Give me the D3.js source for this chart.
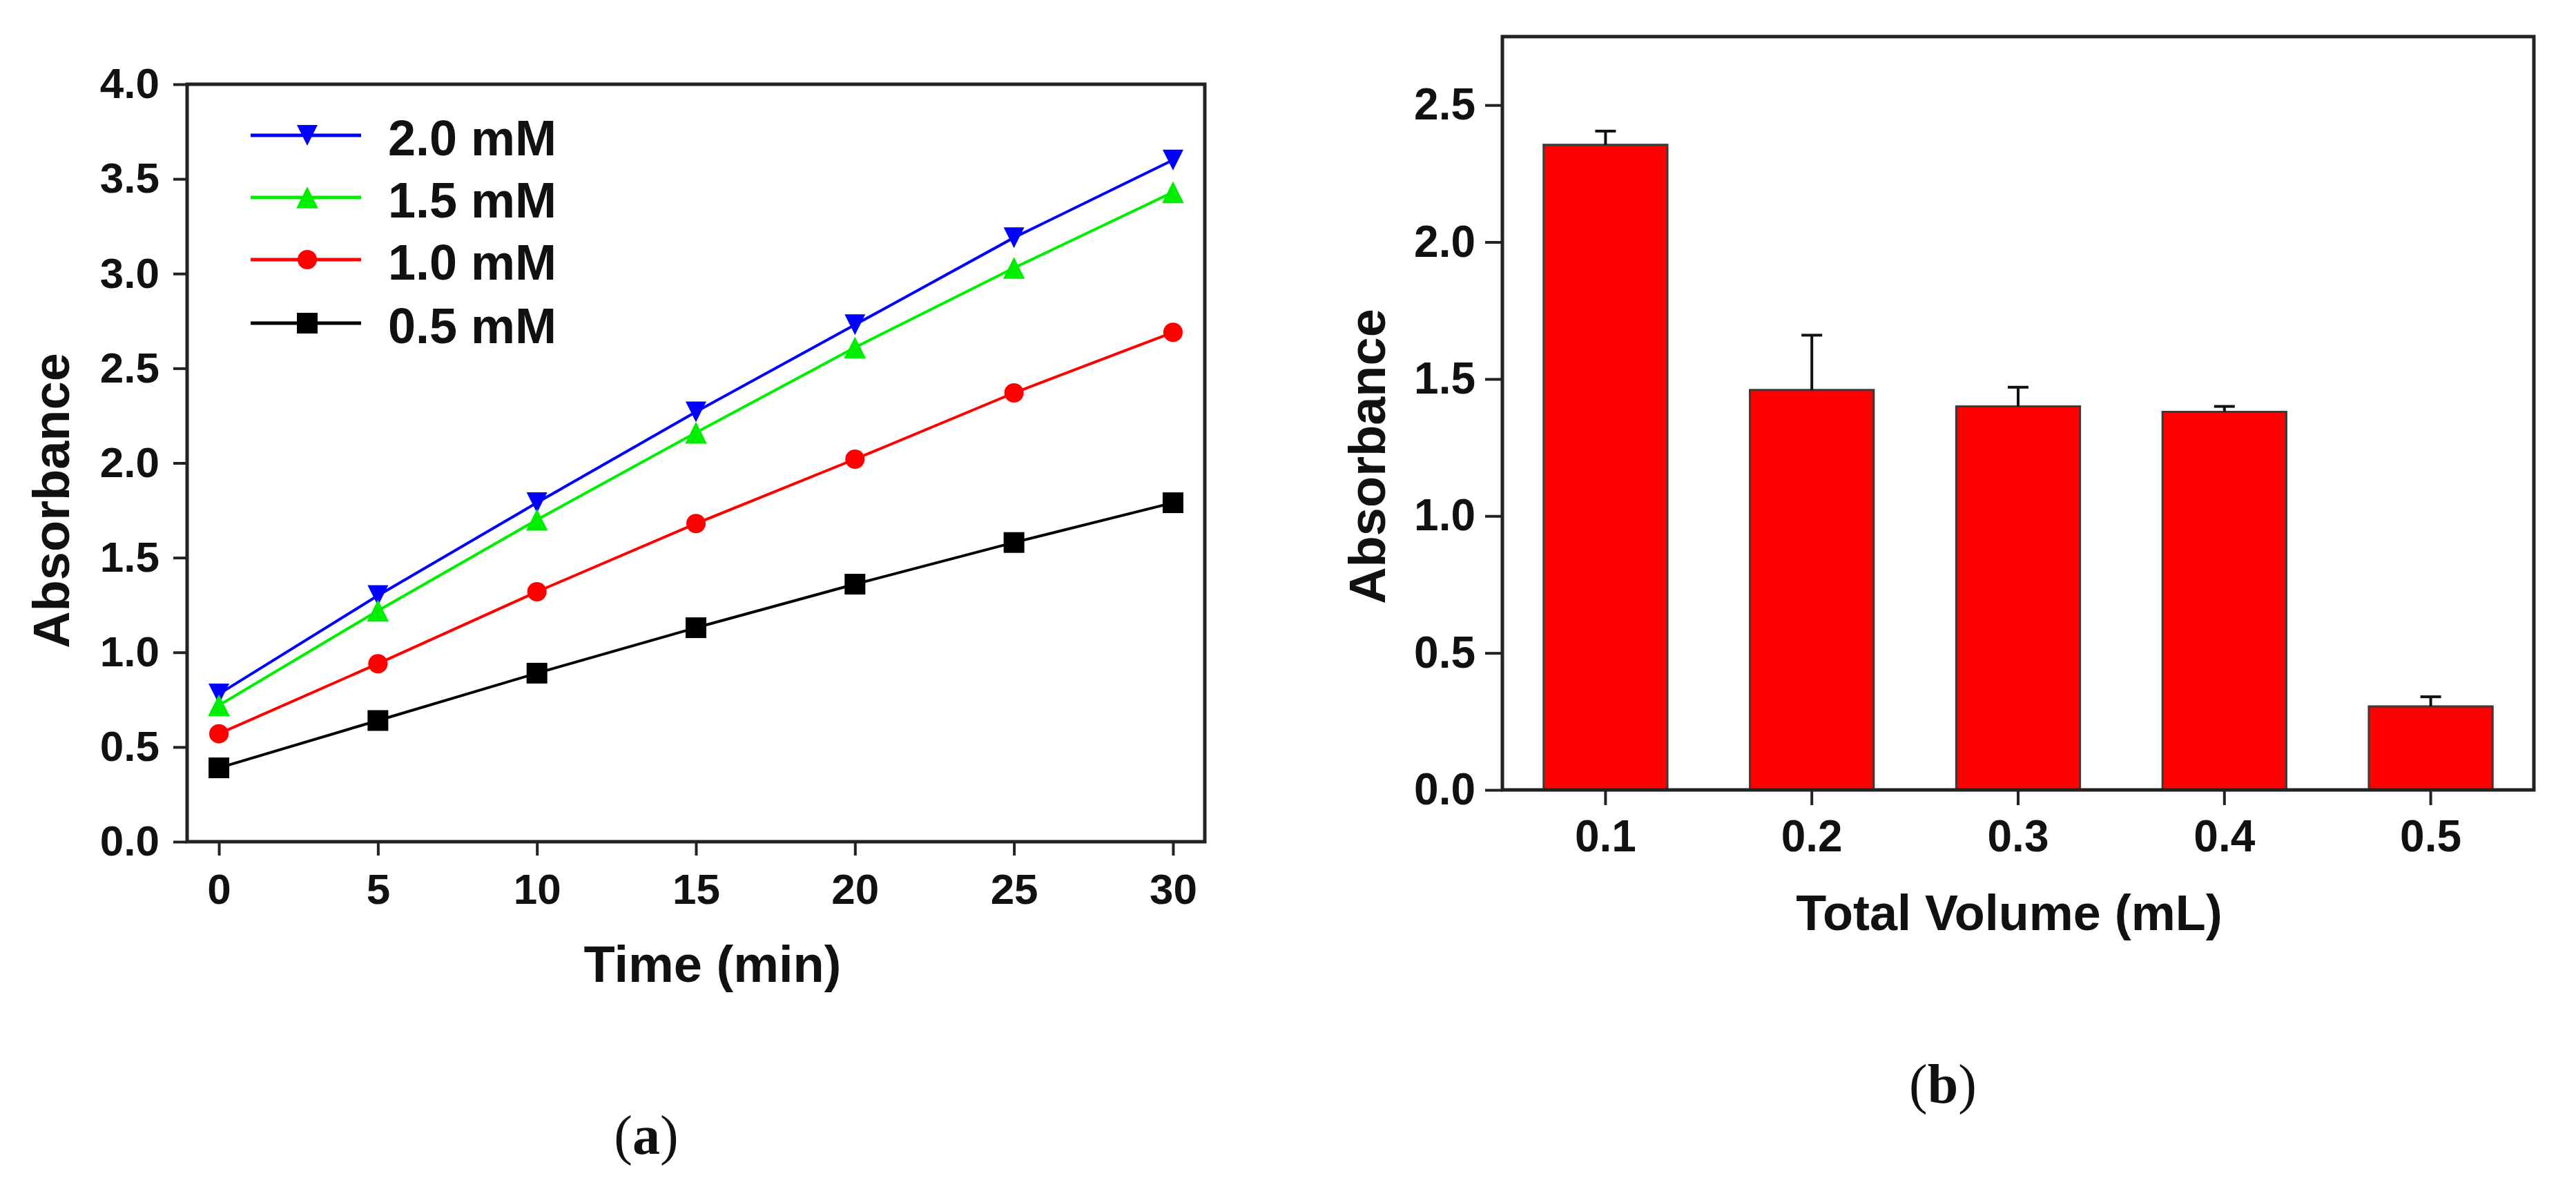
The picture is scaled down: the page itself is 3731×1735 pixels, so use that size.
<!DOCTYPE html>
<html>
<head>
<meta charset="utf-8">
<script src="https://cdn.jsdelivr.net/npm/d3@7"></script>
<style>
  body { margin: 0; background: #fff; }
  svg text { font-family: "Liberation Sans", Arial, sans-serif; font-weight: bold; fill: #111; }
  svg text.cap { font-family: "Liberation Serif", "Times New Roman", serif; font-weight: normal; }
</style>
</head>
<body>
<svg id="fig"></svg>
<script>
// panel (a): absorbance vs time for four concentrations
var times = [0, 5, 10, 15, 20, 25, 30];
var abs20 = [0.78, 1.30, 1.79, 2.27, 2.73, 3.19, 3.60];
var abs15 = [0.72, 1.22, 1.70, 2.16, 2.61, 3.03, 3.43];
var abs10 = [0.57, 0.94, 1.32, 1.68, 2.02, 2.37, 2.69];
var abs05 = [0.39, 0.64, 0.89, 1.13, 1.36, 1.58, 1.79];
var seriesNames = ["2.0 mM", "1.5 mM", "1.0 mM", "0.5 mM"];
var timeTicks = [0, 5, 10, 15, 20, 25, 30];
var absTicksA = [0, 0.5, 1.0, 1.5, 2.0, 2.5, 3.0, 3.5, 4.0];

// panel (b): absorbance vs total volume
var volumes = ["0.1", "0.2", "0.3", "0.4", "0.5"];
var volAbs = [2.355, 1.46, 1.40, 1.38, 0.305];
var volErr = [0.05, 0.20, 0.07, 0.02, 0.035];
var absTicksB = [0, 0.5, 1.0, 1.5, 2.0, 2.5];

var W = 3731, H = 1735;
var svg = d3.select("#fig").attr("width", W).attr("height", H);
svg.append("rect").attr("width", W).attr("height", H).attr("fill", "#fff");

var fmt = d3.format(".1f");

// triangle as tall as it is wide (Origin style), centred on its box
var symbolTri = {
    draw: function(ctx, size) {
        var r = Math.sqrt(size) / 2;
        ctx.moveTo(0, -r);
        ctx.lineTo(r, r);
        ctx.lineTo(-r, r);
        ctx.closePath();
    }
};

function styleAxis(g, size) {
    g.select(".domain").remove();
    g.selectAll(".tick line").attr("stroke", "#222").attr("stroke-width", 4);
    g.selectAll(".tick text")
        .attr("fill", "#111")
        .style("font-family", "'Liberation Sans', Arial, sans-serif")
        .style("font-weight", "bold")
        .style("font-size", size + "px");
}

// ---------- panel (a) ----------
var xa = d3.scaleLinear().domain([-1, 31]).range([271, 1745]);
var ya = d3.scaleLinear().domain([0, 4]).range([1219, 122]);

var pa = svg.append("g");

pa.append("g")
    .attr("transform", "translate(271,0)")
    .call(d3.axisLeft(ya).tickValues(absTicksA).tickFormat(fmt).tickSize(20).tickPadding(20))
    .call(styleAxis, 62);

pa.append("g")
    .attr("transform", "translate(0,1219)")
    .call(d3.axisBottom(xa).tickValues(timeTicks).tickSize(20).tickPadding(26))
    .call(styleAxis, 62);

var seriesA = [
    {name: seriesNames[0], values: abs20, color: "#0000ff", sym: symbolTri, size: 900, rot: 180},
    {name: seriesNames[1], values: abs15, color: "#00ee00", sym: symbolTri, size: 1000, rot: 0},
    {name: seriesNames[2], values: abs10, color: "#ff0000", sym: d3.symbolCircle, size: 620, rot: 0},
    {name: seriesNames[3], values: abs05, color: "#000000", sym: d3.symbolSquare, size: 900, rot: 0}
];

var line = d3.line()
    .x(function(d, i) { return xa(times[i]); })
    .y(function(d) { return ya(d); });

var sg = pa.selectAll("g.series").data(seriesA).enter().append("g").attr("class", "series");

sg.append("path")
    .attr("d", function(s) { return line(s.values); })
    .attr("fill", "none")
    .attr("stroke", function(s) { return s.color; })
    .attr("stroke-width", 4);

sg.each(function(s) {
    d3.select(this).selectAll("path.pt").data(s.values).enter().append("path")
        .attr("class", "pt")
        .attr("d", d3.symbol().type(s.sym).size(s.size))
        .attr("transform", function(d, i) {
            return "translate(" + xa(times[i]) + "," + ya(d) + ") rotate(" + s.rot + ")";
        })
        .attr("fill", s.color);
});

// legend
var legY = [196, 286, 376, 468];
var lg = pa.selectAll("g.leg").data(seriesA).enter().append("g")
    .attr("class", "leg")
    .attr("transform", function(s, i) { return "translate(0," + legY[i] + ")"; });
lg.append("line")
    .attr("x1", 363).attr("x2", 523)
    .attr("stroke", function(s) { return s.color; })
    .attr("stroke-width", 5);
lg.append("path")
    .attr("d", function(s) { return d3.symbol().type(s.sym).size(s.size)(); })
    .attr("transform", function(s) { return "translate(445,0) rotate(" + s.rot + ")"; })
    .attr("fill", function(s) { return s.color; });
lg.append("text")
    .attr("x", 562).attr("y", 29)
    .style("font-size", "72px")
    .text(function(s) { return s.name; });

pa.append("rect")
    .attr("x", 271).attr("y", 122).attr("width", 1745 - 271).attr("height", 1219 - 122)
    .attr("fill", "none").attr("stroke", "#222").attr("stroke-width", 5);

pa.append("text")
    .attr("transform", "translate(100,725) rotate(-90)")
    .attr("text-anchor", "middle")
    .style("font-size", "74px")
    .text("Absorbance");

pa.append("text")
    .attr("x", 1032).attr("y", 1422)
    .attr("text-anchor", "middle")
    .style("font-size", "74px")
    .text("Time (min)");

var ca = pa.append("text").attr("class", "cap")
    .attr("x", 936).attr("y", 1671).attr("text-anchor", "middle")
    .style("font-size", "80px");
ca.append("tspan").text("(");
ca.append("tspan").style("font-weight", "bold").text("a");
ca.append("tspan").text(")");

// ---------- panel (b) ----------
var xb = d3.scaleBand().domain(volumes).range([2176, 3670]).paddingInner(0.4).paddingOuter(0.2);
var yb = d3.scaleLinear().domain([0, 2.75]).range([1144, 53]);

var pb = svg.append("g");

pb.append("g")
    .attr("transform", "translate(2176,0)")
    .call(d3.axisLeft(yb).tickValues(absTicksB).tickFormat(fmt).tickSize(25).tickPadding(14))
    .call(styleAxis, 64);

pb.append("g")
    .attr("transform", "translate(0,1144)")
    .call(d3.axisBottom(xb).tickSize(22).tickPadding(22))
    .call(styleAxis, 64);

pb.selectAll("rect.bar").data(volAbs).enter().append("rect")
    .attr("class", "bar")
    .attr("x", function(d, i) { return xb(volumes[i]); })
    .attr("y", function(d) { return yb(d); })
    .attr("width", xb.bandwidth())
    .attr("height", function(d) { return yb(0) - yb(d); })
    .attr("fill", "#ff0000")
    .attr("stroke", "#3a3a3a")
    .attr("stroke-width", 3);

var eb = pb.selectAll("g.err").data(volAbs).enter().append("g").attr("class", "err");
eb.append("line")
    .attr("x1", function(d, i) { return xb(volumes[i]) + xb.bandwidth() / 2; })
    .attr("x2", function(d, i) { return xb(volumes[i]) + xb.bandwidth() / 2; })
    .attr("y1", function(d) { return yb(d); })
    .attr("y2", function(d, i) { return yb(d + volErr[i]); })
    .attr("stroke", "#111").attr("stroke-width", 4);
eb.append("line")
    .attr("x1", function(d, i) { return xb(volumes[i]) + xb.bandwidth() / 2 - 15; })
    .attr("x2", function(d, i) { return xb(volumes[i]) + xb.bandwidth() / 2 + 15; })
    .attr("y1", function(d, i) { return yb(d + volErr[i]); })
    .attr("y2", function(d, i) { return yb(d + volErr[i]); })
    .attr("stroke", "#111").attr("stroke-width", 4);

pb.append("rect")
    .attr("x", 2176).attr("y", 53).attr("width", 3670 - 2176).attr("height", 1144 - 53)
    .attr("fill", "none").attr("stroke", "#222").attr("stroke-width", 5);

pb.append("text")
    .attr("transform", "translate(2006,661) rotate(-90)")
    .attr("text-anchor", "middle")
    .style("font-size", "74px")
    .text("Absorbance");

pb.append("text")
    .attr("x", 2910).attr("y", 1347)
    .attr("text-anchor", "middle")
    .style("font-size", "72px")
    .text("Total Volume (mL)");

var cb = pb.append("text").attr("class", "cap")
    .attr("x", 2814).attr("y", 1597).attr("text-anchor", "middle")
    .style("font-size", "80px");
cb.append("tspan").text("(");
cb.append("tspan").style("font-weight", "bold").text("b");
cb.append("tspan").text(")");
</script>
</body>
</html>
